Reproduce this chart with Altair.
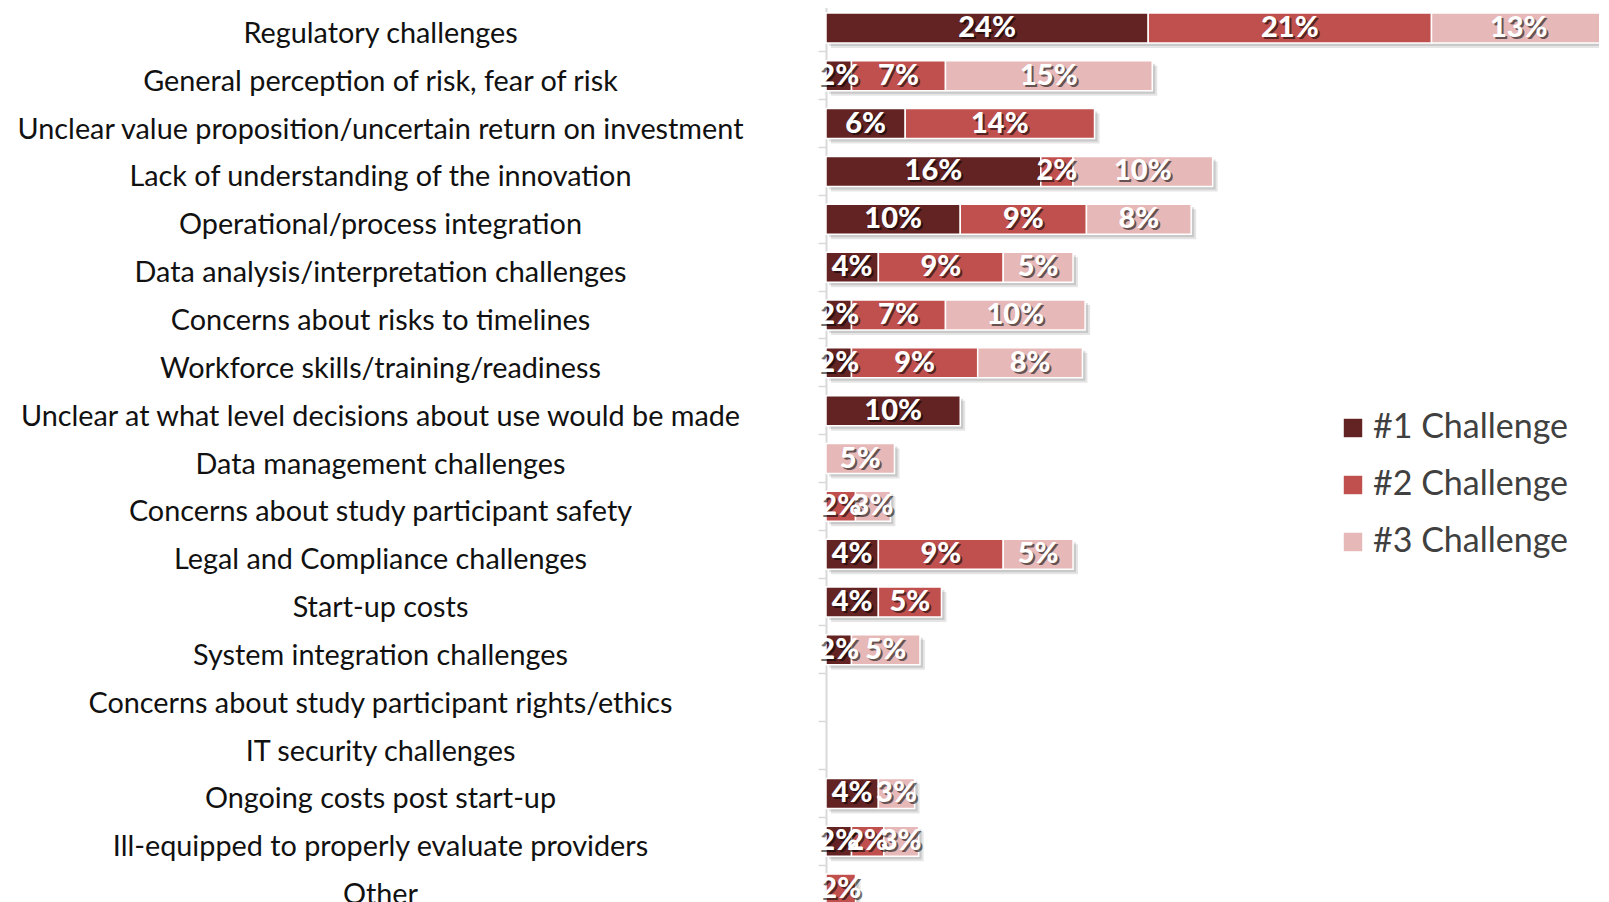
import altair as alt
import pandas as pd

categories = [
    "Regulatory challenges",
    "General perception of risk, fear of risk",
    "Unclear value proposition/uncertain return on investment",
    "Lack of understanding of the innovation",
    "Operational/process integration",
    "Data analysis/interpretation challenges",
    "Concerns about risks to timelines",
    "Workforce skills/training/readiness",
    "Unclear at what level decisions about use would be made",
    "Data management challenges",
    "Concerns about study participant safety",
    "Legal and Compliance challenges",
    "Start-up costs",
    "System integration challenges",
    "Concerns about study participant rights/ethics",
    "IT security challenges",
    "Ongoing costs post start-up",
    "Ill-equipped to properly evaluate providers",
    "Other",
]
series = ["#1 Challenge", "#2 Challenge", "#3 Challenge"]
challenge1 = [24.0, 1.9, 5.9, 16.0, 10.0, 3.9, 1.9, 1.9, 10.0, 0, 0, 3.9, 3.9, 1.9, 0, 0, 3.9, 1.9, 0]
challenge2 = [21.1, 7.0, 14.1, 2.4, 9.4, 9.3, 7.0, 9.4, 0, 0, 2.2, 9.3, 4.7, 0, 0, 0, 0, 2.4, 2.2]
challenge3 = [13.0, 15.4, 0, 10.4, 7.8, 5.2, 10.4, 7.8, 0, 5.1, 2.6, 5.2, 0, 5.1, 0, 0, 2.7, 2.6, 0]
colors = ["#632323", "#c0504d", "#e6b8b7"]

rows = []
for s_idx, (name, vals) in enumerate(zip(series, [challenge1, challenge2, challenge3])):
    for cat, v in zip(categories, vals):
        if v > 0:
            rows.append({"cat": cat, "series": name, "order": s_idx, "value": v})
df = pd.DataFrame(rows)

XMAX = 57.8
BAR_H = 30
FONT = "Lato"

y_enc = alt.Y(
    "cat:N",
    sort=categories,
    scale=alt.Scale(domain=categories, paddingInner=0, paddingOuter=0),
    axis=alt.Axis(
        title=None,
        labelFont=FONT,
        labelFontSize=28.8,
        labelColor="#111111",
        labelAlign="center",
        labelPadding=438,
        labelLimit=900,
        labelOffset=6,
        bandPosition=0,
        domainColor="#d9d9d9",
        domainWidth=2,
        tickColor="#d9d9d9",
        tickSize=8,
        tickWidth=1.5,
    ),
)
x_scale = alt.Scale(domain=[0, XMAX], nice=False, zero=True)

base = alt.Chart(df).transform_stack(
    stack="value",
    groupby=["cat"],
    as_=["x0", "x1"],
    sort=[alt.SortField("order", order="ascending")],
).transform_calculate(mid="(datum.x0 + datum.x1) / 2", lab="format(datum.value/100, '.0%')")

shadow1 = alt.Chart(df).transform_aggregate(total="sum(value)", groupby=["cat"]).mark_bar(
    height=BAR_H, color="#000000", opacity=0.10, xOffset=5, yOffset=5
).encode(
    y=y_enc,
    x=alt.X("total:Q", scale=x_scale, axis=None),
)
shadow2 = alt.Chart(df).transform_aggregate(total="sum(value)", groupby=["cat"]).mark_bar(
    height=BAR_H, color="#000000", opacity=0.12, xOffset=3, yOffset=3
).encode(
    y=y_enc,
    x=alt.X("total:Q", scale=x_scale, axis=None),
)

bars = base.mark_bar(height=BAR_H, stroke="white", strokeWidth=1.5).encode(
    y=y_enc,
    x=alt.X("x0:Q", scale=x_scale, axis=None),
    x2="x1:Q",
    color=alt.Color(
        "series:N",
        scale=alt.Scale(domain=series, range=colors),
        legend=alt.Legend(
            title=None,
            orient="none",
            legendX=510,
            legendY=407,
            symbolType="square",
            symbolSize=340,
            symbolStrokeWidth=0,
            labelFont=FONT,
            labelFontSize=34,
            labelColor="#404040",
            labelOffset=3,
            labelLimit=400,
            rowPadding=23,
            padding=0,
        ),
    ),
)

text_shadow = base.mark_text(
    font=FONT, fontSize=29, fontWeight=900, color="#000000", opacity=0.55, dx=2, dy=2
).encode(
    y=y_enc,
    x=alt.X("mid:Q", scale=x_scale, axis=None),
    text="lab:N",
)
text = base.mark_text(
    font=FONT, fontSize=29, fontWeight=900, color="#ffffff"
).encode(
    y=y_enc,
    x=alt.X("mid:Q", scale=x_scale, axis=None),
    text="lab:N",
)

chart = alt.layer(shadow2, shadow1, bars, text_shadow, text).properties(
    width=776,
    height=909,
    autosize="none",
    padding={"left": 818, "top": -4, "right": -3, "bottom": -11},
    background="white",
).configure_view(stroke=None)

chart.save("out.html", embed_options={"renderer": "svg", "actions": False})
